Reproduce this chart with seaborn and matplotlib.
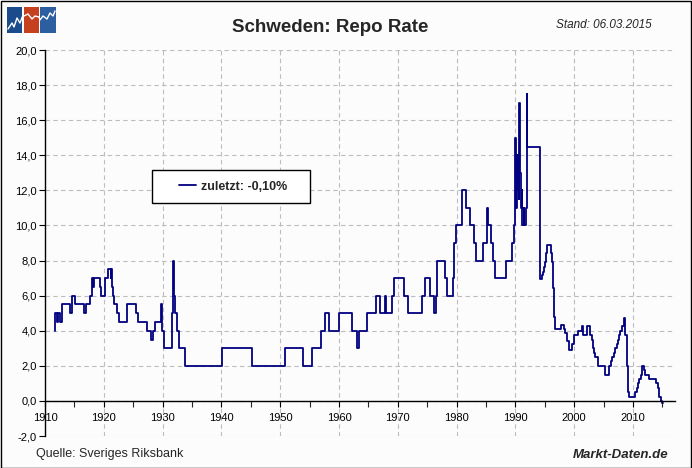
import matplotlib
matplotlib.use("Agg")
import matplotlib.pyplot as plt
from matplotlib.patches import Rectangle
from matplotlib.lines import Line2D
import matplotlib.ticker as mticker
import pandas as pd
import seaborn as sns

# Schweden Leitzins (Diskontsatz / Repo Rate), Stufen: Beginn der Periode -> Zinssatz
change_year = [
    1911.64, 1911.72, 1912.10, 1912.26, 1912.60, 1912.94, 1914.19, 1914.64, 1915.15, 1916.56,
    1917.02, 1917.70, 1918.04, 1918.15, 1918.26, 1919.39, 1919.56, 1920.19, 1920.75, 1921.20,
    1921.26, 1921.32, 1921.60, 1921.71, 1922.28, 1922.56, 1923.98, 1925.45, 1925.80, 1927.37,
    1928.05, 1928.34, 1928.73, 1929.75, 1929.92, 1930.26, 1931.62, 1931.79, 1931.96, 1932.18,
    1932.41, 1932.75, 1933.83, 1940.02, 1945.15, 1950.87, 1953.93, 1955.35, 1956.88, 1957.56,
    1958.36, 1960.06, 1962.27, 1963.00, 1963.46, 1964.82, 1966.35, 1967.03, 1967.88, 1968.02,
    1969.07, 1969.41, 1971.11, 1971.68, 1974.17, 1974.57, 1975.48, 1976.10, 1976.44, 1976.72,
    1978.08, 1978.42, 1979.44, 1979.61, 1979.84, 1980.97, 1981.65, 1982.34, 1983.02, 1983.24,
    1984.43, 1985.23, 1985.36, 1985.85, 1986.13, 1986.59, 1988.34, 1989.37, 1989.76,
    1989.93, 1990.00, 1990.05, 1990.10, 1990.16, 1990.22, 1990.28, 1990.35, 1990.42, 1990.50,
    1990.58, 1990.64, 1990.70, 1990.78, 1991.00, 1991.08, 1991.16, 1991.45, 1991.52, 1991.82,
    1991.92, 1991.98,
    1994.18, 1994.55, 1994.68, 1994.78, 1994.88, 1994.98, 1995.08, 1995.18, 1995.30, 1995.43,
    1996.00, 1996.12, 1996.22, 1996.32, 1996.42, 1996.52, 1996.64, 1996.75, 1997.77, 1998.28,
    1998.50, 1998.73, 1998.84, 1999.07, 1999.62, 1999.94, 2000.72, 2001.35, 2001.55, 2002.18,
    2002.75, 2003.08, 2003.25, 2003.42, 2003.62, 2004.10, 2005.30, 2005.97, 2006.20, 2006.50,
    2006.70, 2006.95, 2007.20, 2007.40, 2007.60, 2007.85, 2008.07, 2008.40, 2008.50, 2008.60,
    2008.70, 2008.98, 2009.09, 2009.20, 2009.30, 2010.40, 2010.60, 2010.80, 2011.00, 2011.30,
    2011.50, 2011.80, 2012.00, 2012.70, 2013.85, 2014.20, 2014.50, 2014.75, 2014.95, 2015.10,
]
rate = [
    4.0, 5.0, 4.5, 5.0, 4.5, 5.5, 5.0, 6.0, 5.5, 5.0,
    5.5, 6.0, 7.0, 6.5, 7.0, 6.5, 6.0, 7.0, 7.5, 7.0,
    7.5, 6.5, 6.0, 5.5, 5.0, 4.5, 5.5, 5.0, 4.5, 4.0,
    3.5, 4.0, 4.5, 5.5, 4.0, 3.0, 5.0, 8.0, 6.0, 5.0,
    4.0, 3.0, 2.0, 3.0, 2.0, 3.0, 2.0, 3.0, 4.0, 5.0,
    4.0, 5.0, 4.0, 3.0, 4.0, 5.0, 6.0, 5.0, 6.0, 5.0,
    6.0, 7.0, 6.0, 5.0, 6.0, 7.0, 6.0, 5.0, 6.0, 8.0,
    7.0, 6.0, 7.0, 9.0, 10.0, 12.0, 11.0, 10.0, 9.0, 8.0,
    9.0, 11.0, 10.0, 9.0, 8.0, 7.0, 8.0, 9.0, 10.0,
    11.5, 15.0, 11.0, 14.0, 11.0, 13.0, 11.0, 14.0, 12.0, 14.0,
    11.5, 17.0, 14.5, 13.0, 11.0, 12.0, 10.0, 11.0, 10.0, 11.0,
    17.5, 14.5,
    6.95, 7.2, 7.36, 7.51, 7.61, 7.75, 7.91, 8.41, 8.66, 8.91,
    8.66, 8.41, 7.91, 7.16, 6.41, 5.51, 4.81, 4.1, 4.35, 4.1,
    3.85, 3.6, 3.4, 2.9, 3.25, 3.75, 4.0, 4.25, 3.75, 4.25,
    3.75, 3.5, 3.0, 2.75, 2.5, 2.0, 1.5, 2.0, 2.25, 2.5,
    2.75, 3.0, 3.25, 3.5, 3.75, 4.0, 4.25, 4.5, 4.75, 4.25,
    3.75, 2.0, 1.0, 0.5, 0.25, 0.5, 0.75, 1.0, 1.25, 1.5,
    2.0, 1.75, 1.5, 1.25, 1.0, 0.75, 0.25, 0.0, -0.1, -0.1,
]

x_ticks = list(range(1910, 2011, 10))
y_ticks = [-2, 0, 2, 4, 6, 8, 10, 12, 14, 16, 18, 20]

df = pd.DataFrame({"Jahr": change_year, "Zins": rate})

sns.set_theme(style="white")
plt.rcParams["font.family"] = ["Liberation Sans", "DejaVu Sans"]

W, H = 692, 468
fig = plt.figure(figsize=(W / 100, H / 100), dpi=100, facecolor="#fcfcfc")
ax = fig.add_axes([45 / W, 1 - 436 / H, 630 / W, 386 / H])
ax.set_facecolor("#fcfcfc")

sns.lineplot(data=df, x="Jahr", y="Zins", ax=ax, estimator=None, sort=False,
             drawstyle="steps-post", color="#000080", linewidth=1.3,
             label="zuletzt: -0,10%", zorder=3)

ax.set_xlim(1910, 1910 + 630 / 5.88)
ax.set_ylim(-2, 20)
ax.set_xticks(x_ticks)
ax.xaxis.set_minor_locator(mticker.MultipleLocator(5))
ax.set_yticks(y_ticks)
ax.yaxis.set_major_formatter(mticker.FuncFormatter(lambda v, p: f"{v:.1f}".replace(".", ",")))
ax.set_xlabel("")
ax.set_ylabel("")

ax.grid(True, which="major", color="#bdbdbd", linestyle=(0, (4, 3)), linewidth=0.8, zorder=0)
for s in ["top", "right"]:
    ax.spines[s].set_visible(False)
ax.spines["bottom"].set_position(("data", 0))
for s in ["left", "bottom"]:
    ax.spines[s].set_color("black")
    ax.spines[s].set_linewidth(1.0)
    ax.spines[s].set_zorder(4)

tick_font = ["Liberation Sans Narrow", "Liberation Sans", "DejaVu Sans"]
ax.tick_params(axis="x", which="major", direction="out", length=4, width=0.8, pad=5,
               colors="black", labelsize=8, bottom=True)
ax.tick_params(axis="x", which="minor", direction="out", length=4, width=0.8, bottom=True)
ax.tick_params(axis="y", direction="out", length=4, width=0.8, pad=2, colors="black",
               labelsize=8, left=True)
for lab in ax.get_xticklabels() + ax.get_yticklabels():
    lab.set_fontfamily(tick_font)

# Legendenkasten
box = Rectangle((107 / 630, 233 / 386), 158 / 630, 33 / 386, transform=ax.transAxes,
                facecolor="white", edgecolor="black", linewidth=1.0, zorder=4)
ax.add_patch(box)
leg = ax.legend(loc="center", bbox_to_anchor=(188 / 630, 249.5 / 386), frameon=False,
                handlelength=1.4, handletextpad=0.4,
                prop={"weight": "bold", "size": 9})
leg.set_zorder(5)

# Texte
fig.text(330 / W, 1 - 28 / H, "Schweden: Repo Rate", ha="center", va="center",
         fontsize=13.5, fontweight="bold")
fig.text(652 / W, 1 - 25 / H, "Stand: 06.03.2015", ha="right", va="center",
         fontsize=8.5, fontstyle="italic")
fig.text(36 / W, 1 - 454 / H, "Quelle: Sveriges Riksbank", ha="left", va="center", fontsize=9)
fig.text(668 / W, 1 - 455 / H, "Markt-Daten.de", ha="right", va="center", fontsize=9.5,
         fontweight="bold", fontstyle="italic")

# Logo oben links
logo_cols = ["#1b4b8c", "#c4401f", "#2d5e9f"]
logo_x = [7, 24, 40]
for lx, c in zip(logo_x, logo_cols):
    fig.add_artist(Rectangle((lx / W, 1 - 33 / H), 15.5 / W, 26 / H, transform=fig.transFigure,
                             facecolor=c, edgecolor="none"))
zz_x = [8, 12, 14, 17, 20, 23, 24, 28, 32, 35, 39, 40, 43, 47, 50, 53, 55]
zz_y = [29, 23, 27, 18, 23, 15, 16, 14, 19, 16, 17, 20, 16, 19, 13, 16, 11]
fig.add_artist(Line2D([v / W for v in zz_x], [1 - v / H for v in zz_y],
                      transform=fig.transFigure, color="white", linewidth=1.0))

# Rahmen
fig.add_artist(Rectangle((0.5 / W, 0.5 / H), (W - 1.5) / W, (H - 1.5) / H,
                         transform=fig.transFigure, facecolor="none", edgecolor="black",
                         linewidth=1.0))

fig.savefig("out.png", dpi=100, facecolor=fig.get_facecolor())
